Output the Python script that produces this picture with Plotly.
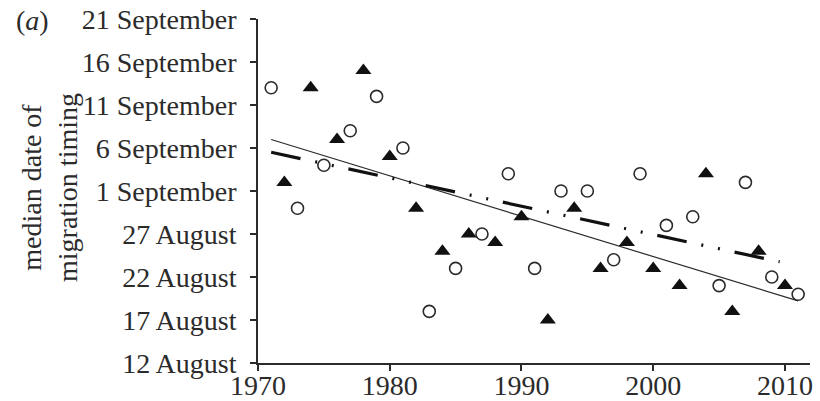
import numpy as np
import plotly.graph_objects as go

# Data: y values are days relative to 1 September (0 = 1 September)
circle_years = [1971, 1973, 1975, 1977, 1979, 1981, 1983, 1985, 1987, 1989, 1991,
                1993, 1995, 1997, 1999, 2001, 2003, 2005, 2007, 2009, 2011]
circle_days = [12, -2, 3, 7, 11, 5, -14, -9, -5, 2, -9,
               0, 0, -8, 2, -4, -3, -11, 1, -10, -12]

triangle_years = [1972, 1974, 1976, 1978, 1980, 1982, 1984, 1986, 1988, 1990,
                  1992, 1994, 1996, 1998, 2000, 2002, 2004, 2006, 2008, 2010]
triangle_days = [1, 12, 6, 14, 4, -2, -7, -5, -6, -3,
                 -15, -2, -9, -6, -9, -11, 2, -14, -7, -11]

tick_vals = [-20, -15, -10, -5, 0, 5, 10, 15, 20]
tick_text = ["12 August", "17 August", "22 August", "27 August", "1 September",
             "6 September", "11 September", "16 September", "21 September"]
x_ticks = [1970, 1980, 1990, 2000, 2010]

solid_span = [1971, 2011]
dashdot_span = [1971, 2009.6]

FONT = "Liberation Serif"
INK = "#2b2b2b"
FS = 28

# regression lines
tc = np.polyfit(triangle_years, triangle_days, 1)
cc = np.polyfit(circle_years, circle_days, 1)
sx = np.array(solid_span)
dx = np.array(dashdot_span)

fig = go.Figure()
fig.add_trace(go.Scatter(x=sx, y=np.polyval(tc, sx), mode="lines",
                         line=dict(color=INK, width=1.2), showlegend=False))
fig.add_trace(go.Scatter(x=dx, y=np.polyval(cc, dx), mode="lines",
                         line=dict(color="#111", width=3.2,
                                   dash="30px,15px,2px,15px,2px,15px"),
                         showlegend=False))
fig.add_trace(go.Scatter(x=circle_years, y=circle_days, mode="markers",
                         marker=dict(symbol="circle-open", size=12, color=INK,
                                     line=dict(width=1.6, color=INK)),
                         cliponaxis=False, showlegend=False))
fig.add_trace(go.Scatter(x=triangle_years, y=triangle_days, mode="markers",
                         marker=dict(symbol="triangle-up", size=14, color="#111",
                                     line=dict(width=0)),
                         cliponaxis=False, showlegend=False))

L, R, T, B = 258, 10, 19, 38
W, H = 820, 401
pw = W - L - R
ph = H - T - B

def px2paper(x, y):
    return (x - L) / pw, (H - B - y) / ph

fig.update_layout(
    width=W, height=H,
    margin=dict(l=L, r=R, t=T, b=B, autoexpand=False),
    paper_bgcolor="white", plot_bgcolor="white",
    font=dict(family=FONT, size=FS, color=INK),
    xaxis=dict(range=[1970, 2011.9], tickvals=x_ticks, ticks="outside",
               ticklen=6, tickwidth=1.5, tickcolor=INK, automargin=False,
               ticklabelstandoff=-10,
               showline=True, linecolor=INK, linewidth=1.8,
               showgrid=False, zeroline=False,
               tickfont=dict(family=FONT, size=FS, color=INK)),
    yaxis=dict(range=[-20, 20], tickvals=tick_vals, ticktext=tick_text,
               ticks="outside", ticklen=6, tickwidth=1.5, tickcolor=INK,
               automargin=False, ticklabelstandoff=8,
               showline=True, linecolor=INK, linewidth=1.8,
               showgrid=False, zeroline=False,
               tickfont=dict(family=FONT, size=FS, color=INK)),
)

ax, ay = px2paper(49, 188)
fig.add_annotation(text="median date of<br>migration timing", textangle=-90,
                   xref="paper", yref="paper", x=ax, y=ay, showarrow=False,
                   font=dict(family=FONT, size=FS, color=INK),
                   xanchor="center", yanchor="middle")
bx, by = px2paper(32, 20)
fig.add_annotation(text="(<i>a</i>)", xref="paper", yref="paper", x=bx, y=by,
                   showarrow=False, font=dict(family=FONT, size=FS, color=INK),
                   xanchor="center", yanchor="middle")

fig.write_html("out.html", config={"displayModeBar": False},
               post_script="document.body.style.margin='0';document.body.style.overflow='hidden';")
